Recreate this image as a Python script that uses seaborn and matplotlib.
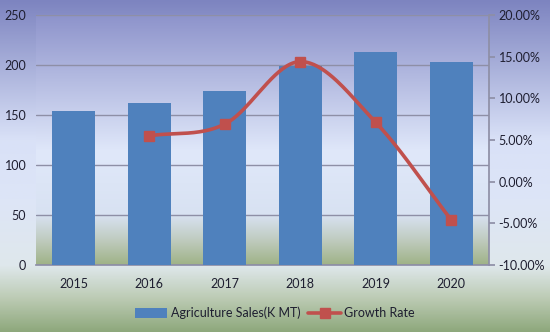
import numpy as np
import pandas as pd
import matplotlib
matplotlib.use("Agg")
import matplotlib.pyplot as plt
import seaborn as sns
from matplotlib.colors import LinearSegmentedColormap
from matplotlib.lines import Line2D
from matplotlib.patches import Patch

years = ["2015", "2016", "2017", "2018", "2019", "2020"]
sales = [154, 162, 174, 199, 213, 203]
growth = [None, 5.5, 6.9, 14.4, 7.1, -4.6]  # percent
left_ticks = [0, 50, 100, 150, 200, 250]
right_ticks = [-10, -5, 0, 5, 10, 15, 20]
sales_label = "Agriculture Sales(K MT)"
growth_label = "Growth Rate"

BAR = "#4f81bd"
RED = "#c0504d"

sns.set_theme(style="white")
plt.rcParams["font.family"] = ["Lato", "DejaVu Sans"]

fig = plt.figure(figsize=(5.5, 3.32), dpi=100)

# figure background gradient
bg = fig.add_axes([0, 0, 1, 1], zorder=-10)
bg.axis("off")
fig_cmap = LinearSegmentedColormap.from_list(
    "figbg", [(0.0, "#7d84c0"), (0.42, "#d9e1f7"), (0.6, "#dde5f7"),
              (0.8, "#dfe8ec"), (0.9, "#bccbb4"), (1.0, "#8ea87c")])
grad = np.linspace(0, 1, 256).reshape(-1, 1)
bg.imshow(grad, aspect="auto", cmap=fig_cmap, extent=[0, 1, 0, 1], origin="upper")
bg.set_xlim(0, 1)
bg.set_ylim(0, 1)

ax = fig.add_axes([0.0655, 0.2018, 0.8236, 0.7532])
ax.patch.set_alpha(0)
plot_cmap = LinearSegmentedColormap.from_list(
    "plotbg", [(0.0, "#8d93cb"), (0.55, "#e0e8fa"), (0.8, "#d8e2f2"),
               (0.9, "#c0ccc0"), (1.0, "#9fb287")])
ax.imshow(grad, aspect="auto", cmap=plot_cmap, extent=[0, 1, 0, 1],
          origin="upper", transform=ax.transAxes, zorder=-5)

df = pd.DataFrame({"year": years, "sales": sales})
sns.barplot(data=df, x="year", y="sales", color=BAR, saturation=1,
            width=0.57, ax=ax, zorder=3, linewidth=0, edgecolor=BAR)
ax.set_ylim(0, 250)
ax.set_xlim(-0.5, len(years) - 0.5)
ax.set_yticks(left_ticks)
ax.set_yticklabels([str(t) for t in left_ticks])
ax.set_xlabel("")
ax.set_ylabel("")
ax.grid(axis="y", color="#8e8fa6", linewidth=1.0, zorder=0)
ax.set_axisbelow(True)
for s in ["left", "top", "right"]:
    ax.spines[s].set_visible(False)
ax.spines["bottom"].set_color("#8e8fa6")
ax.tick_params(axis="both", length=0, labelsize=9, colors="#1e1e30", pad=7)
ax.tick_params(axis="x", pad=9)

ax2 = ax.twinx()
ax2.set_ylim(-10, 20)
ax2.set_yticks(right_ticks)
ax2.set_yticklabels([f"{t:.2f}%" for t in right_ticks])
for s in ["left", "top", "bottom"]:
    ax2.spines[s].set_visible(False)
ax2.spines["right"].set_color("#8e8fa6")
ax2.tick_params(axis="y", length=4, direction="out", color="#8e8fa6",
                labelsize=9, labelcolor="#1e1e30", pad=3)

# smooth line (Catmull-Rom through the data points)
gx = np.array([i for i, g in enumerate(growth) if g is not None], dtype=float)
gy = np.array([g for g in growth if g is not None], dtype=float)
px = np.concatenate([[2 * gx[0] - gx[1]], gx, [2 * gx[-1] - gx[-2]]])
py = np.concatenate([[2 * gy[0] - gy[1]], gy, [2 * gy[-1] - gy[-2]]])
sx, sy = [], []
t = np.linspace(0, 1, 40)
for i in range(1, len(px) - 2):
    p0, p1, p2, p3 = [np.array([px[j], py[j]]) for j in range(i - 1, i + 3)]
    for tt in t:
        pt = 0.5 * ((2 * p1) + (-p0 + p2) * tt + (2 * p0 - 5 * p1 + 4 * p2 - p3) * tt ** 2
                    + (-p0 + 3 * p1 - 3 * p2 + p3) * tt ** 3)
        sx.append(pt[0]); sy.append(pt[1])
ax2.plot(sx, sy, color=RED, linewidth=2.6, zorder=5, solid_capstyle="round")
ax2.plot(gx, gy, linestyle="none", marker="s", markersize=7, color=RED, zorder=6)

handles = [Patch(facecolor=BAR, edgecolor=BAR, linewidth=0),
           Line2D([0], [0], color=RED, linewidth=2.6, marker="s", markersize=7)]
fig.legend(handles, [sales_label, growth_label], loc="center",
           bbox_to_anchor=(0.5, 0.057), ncol=2, frameon=False, fontsize=9,
           handlelength=2.6, handleheight=0.9, columnspacing=0.6, handletextpad=0.3,
           labelcolor="#1e1e30")

fig.savefig("out.png", dpi=100)
